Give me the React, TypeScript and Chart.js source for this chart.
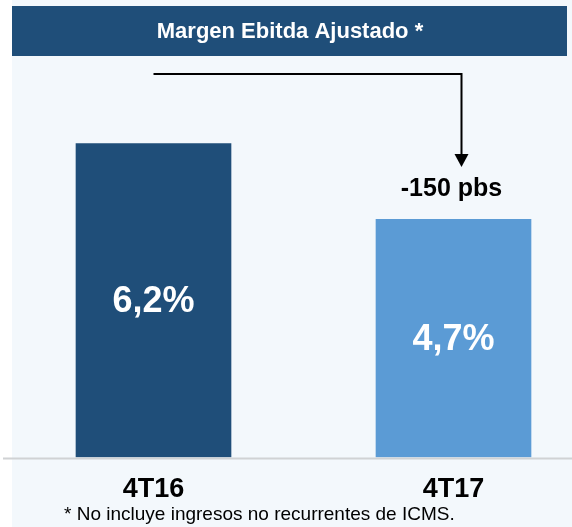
import React, { useEffect, useRef } from "react";
import { Chart, registerables } from "chart.js";

Chart.register(...registerables);

const categories = ["4T16", "4T17"];
const values = [6.2, 4.7];
const valueLabels = ["6,2%", "4,7%"];
const changeLabel = "-150 pbs";
const titleText = "Margen Ebitda Ajustado *";
const footnote = "* No incluye ingresos no recurrentes de ICMS.";

const FONT = '"Liberation Sans", Arial, sans-serif';
const DARK = "#1F4E79";
const LIGHT = "#5B9BD5";
const BG = "#F3F8FC";

const decorPlugin = {
  id: "decor",
  beforeDraw(chart: any) {
    const { ctx, width, height } = chart;
    ctx.save();
    ctx.fillStyle = "#FFFFFF";
    ctx.fillRect(0, 0, width, height);
    ctx.fillStyle = BG;
    ctx.fillRect(12, 0, width - 12, height);
    // title bar
    ctx.fillStyle = DARK;
    ctx.fillRect(12, 6, 555, 50);
    ctx.fillStyle = "#FFFFFF";
    ctx.font = `bold 22px ${FONT}`;
    ctx.textAlign = "center";
    ctx.textBaseline = "middle";
    ctx.fillText(titleText, 290, 32);
    ctx.restore();
  },
  afterDatasetsDraw(chart: any) {
    const { ctx, width } = chart;
    const meta = chart.getDatasetMeta(0);
    const b1 = meta.data[0];
    const b2 = meta.data[1];
    const yBase = chart.scales.y.getPixelForValue(0);
    ctx.save();
    // baseline
    ctx.strokeStyle = "#D0D2D4";
    ctx.lineWidth = 2;
    ctx.beginPath();
    ctx.moveTo(3, yBase + 1.5);
    ctx.lineTo(width, yBase + 1.5);
    ctx.stroke();
    // value labels
    ctx.fillStyle = "#FFFFFF";
    ctx.font = `bold 36px ${FONT}`;
    ctx.textAlign = "center";
    ctx.textBaseline = "middle";
    meta.data.forEach((bar: any, i: number) => {
      const mid = (bar.y + bar.base) / 2 + 2;
      ctx.fillText(valueLabels[i], bar.x, mid);
    });
    // arrow
    const xv = b2.x + 8;
    const yTop = 74;
    const tip = 167;
    ctx.strokeStyle = "#000000";
    ctx.lineWidth = 2;
    ctx.beginPath();
    ctx.moveTo(b1.x, yTop);
    ctx.lineTo(xv, yTop);
    ctx.lineTo(xv, tip - 10);
    ctx.stroke();
    ctx.fillStyle = "#000000";
    ctx.beginPath();
    ctx.moveTo(xv - 7, tip - 13);
    ctx.lineTo(xv + 7, tip - 13);
    ctx.lineTo(xv, tip);
    ctx.closePath();
    ctx.fill();
    // change label
    ctx.font = `bold 25px ${FONT}`;
    ctx.fillText(changeLabel, b2.x - 2, 189);
    // footnote
    ctx.font = `19px ${FONT}`;
    ctx.textAlign = "left";
    ctx.fillText(footnote, 64, 515);
    ctx.restore();
  },
};

export default function App() {
  const ref = useRef<HTMLCanvasElement>(null);
  useEffect(() => {
    if (!ref.current) return;
    const chart = new Chart(ref.current, {
      type: "bar",
      data: {
        labels: categories,
        datasets: [
          {
            data: values,
            backgroundColor: [DARK, LIGHT],
            borderWidth: 0,
            barThickness: 155,
            clip: false as any,
          },
        ],
      },
      options: {
        animation: false,
        responsive: false,
        maintainAspectRatio: false,
        layout: { padding: { left: 153.5, right: 118.5, top: 103, bottom: 0 } },
        plugins: { legend: { display: false }, tooltip: { enabled: false }, title: { display: false } },
        scales: {
          x: {
            type: "category",
            offset: false,
            grid: { display: false },
            border: { display: false },
            ticks: {
              color: "#000000",
              font: { family: FONT, size: 27, weight: "bold" },
              padding: 8,
              maxRotation: 0,
              autoSkip: false,
            },
            afterFit: (scale: any) => {
              scale.height = 70;
            },
          },
          y: { display: false, min: 0, max: 7 },
        },
      },
      plugins: [decorPlugin],
    });
    return () => chart.destroy();
  }, []);
  return (
    <div style={{ position: "fixed", left: 0, top: 0, width: 572, height: 527 }}>
      <canvas ref={ref} width={572} height={527} style={{ display: "block", width: 572, height: 527 }} />
    </div>
  );
}
